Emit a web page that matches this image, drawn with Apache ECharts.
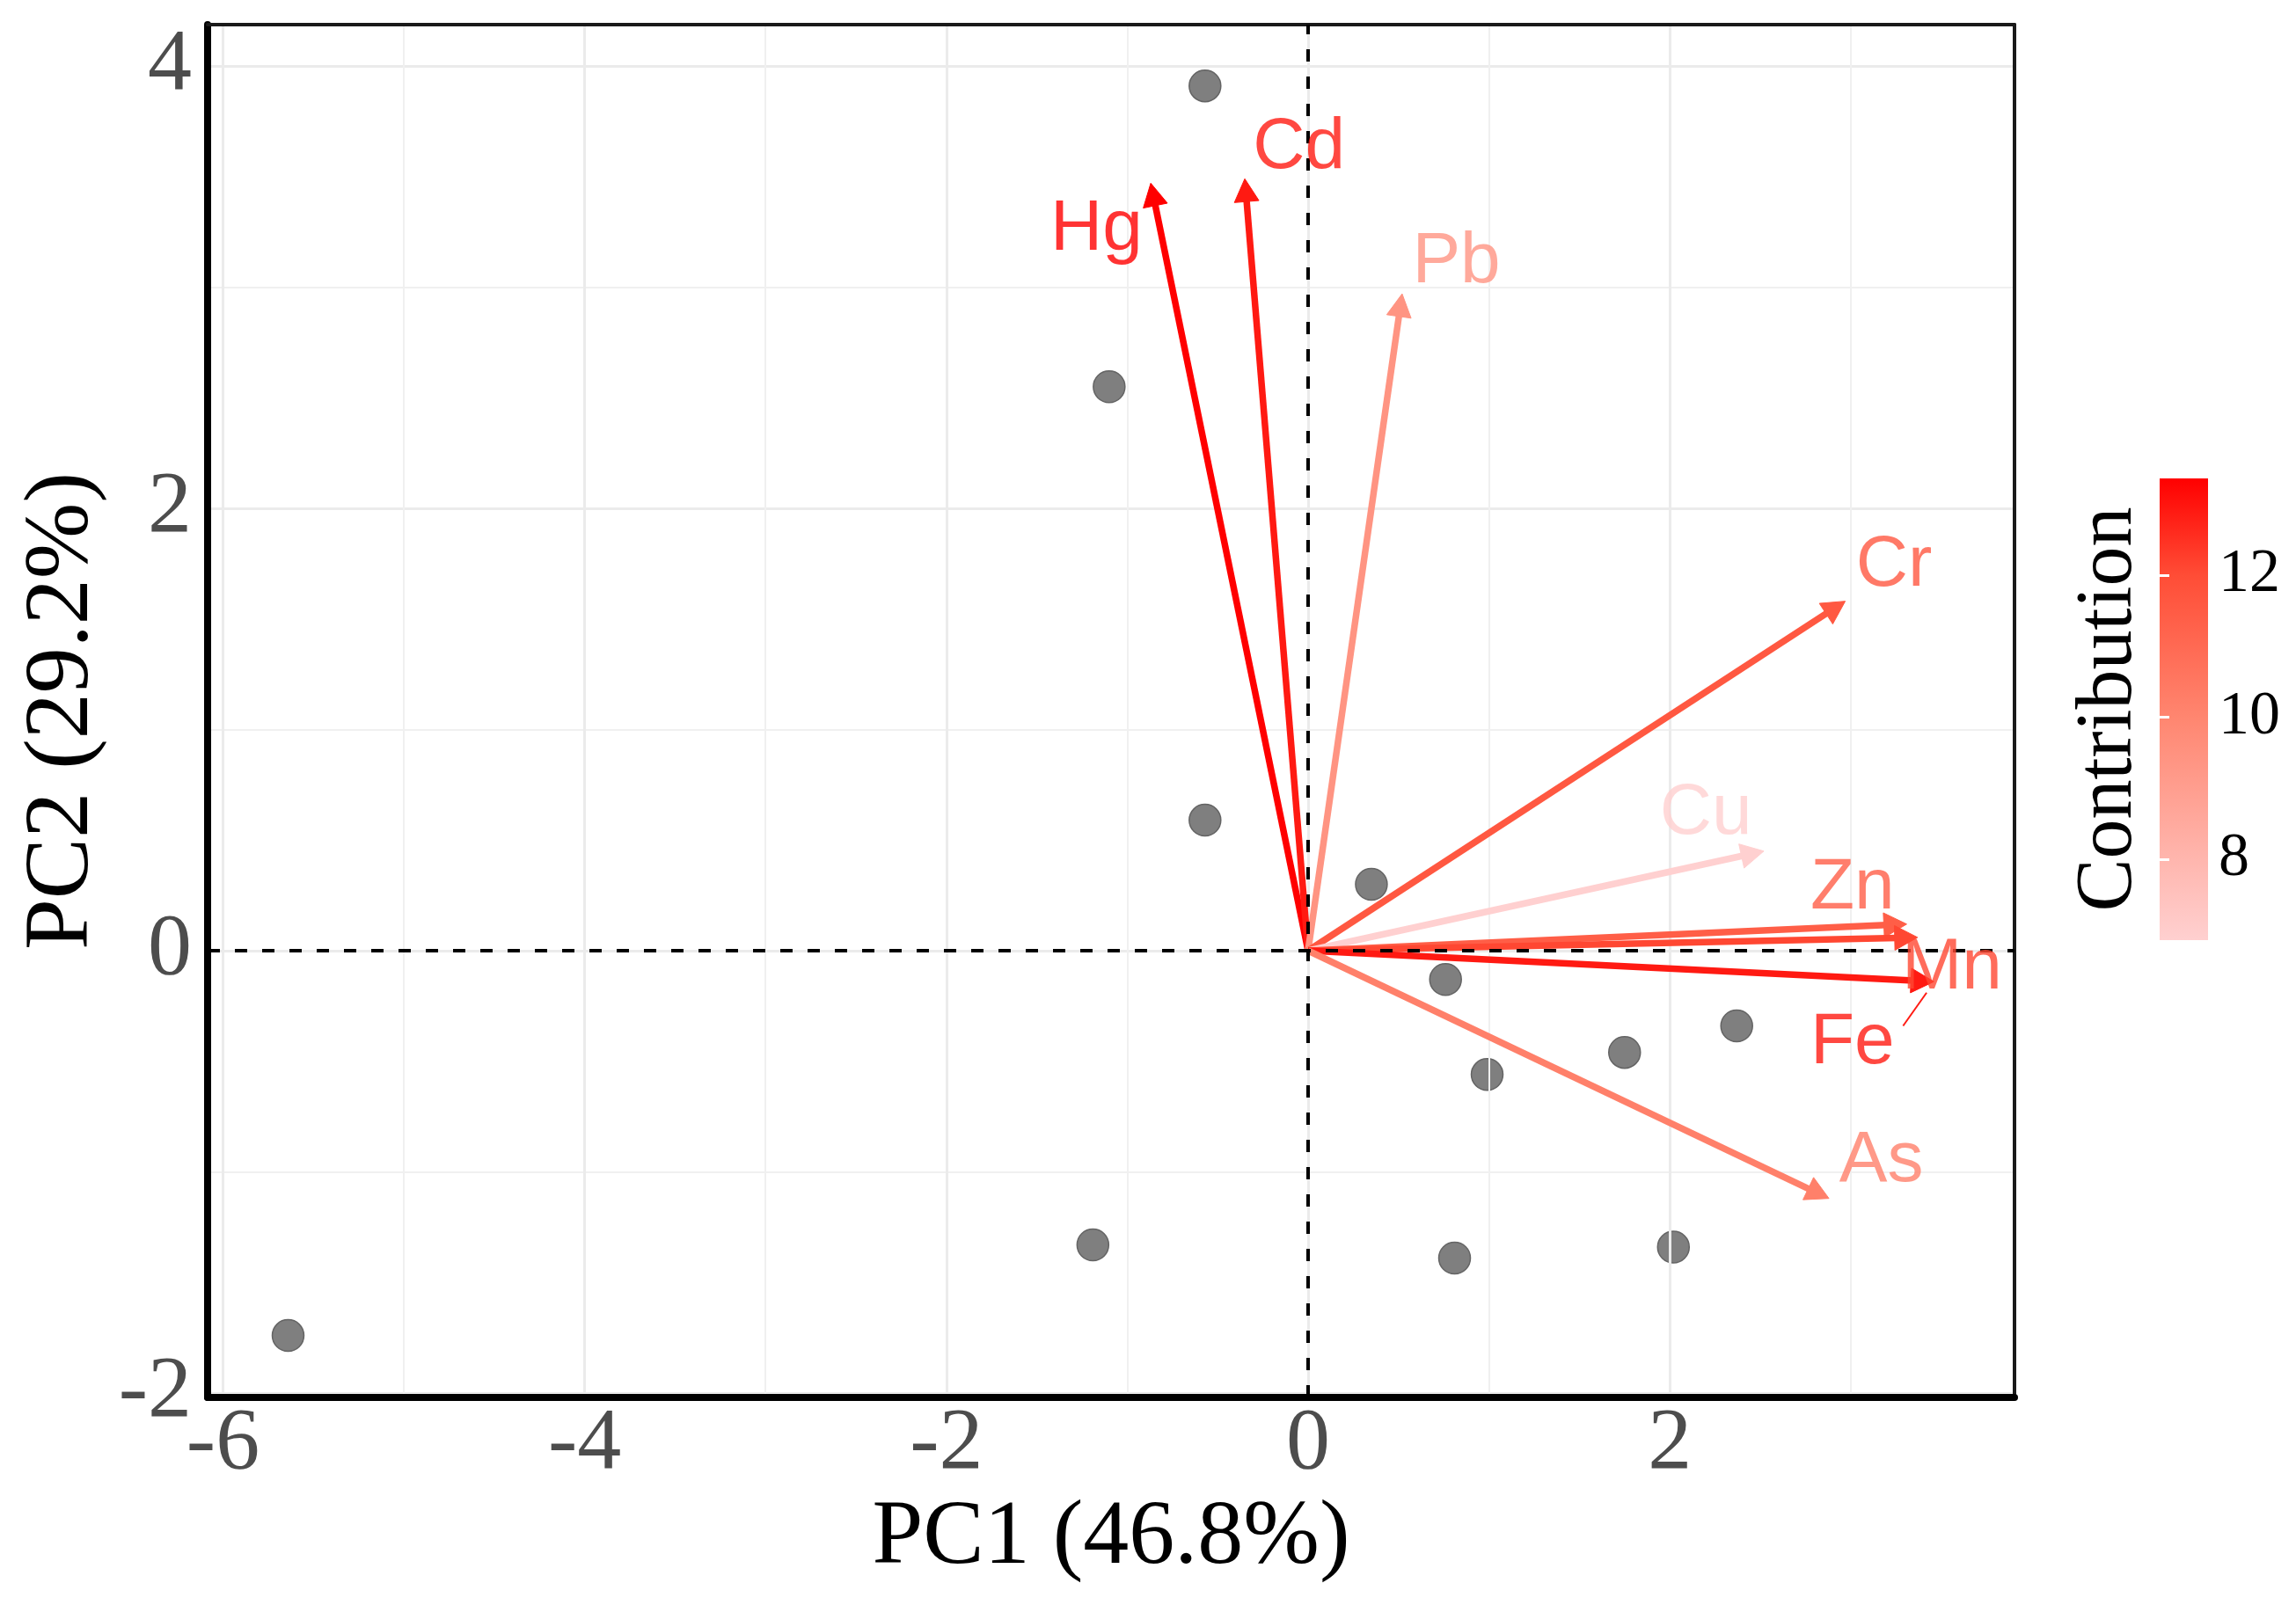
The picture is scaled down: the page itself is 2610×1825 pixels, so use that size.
<!DOCTYPE html>
<html>
<head>
<meta charset="utf-8">
<script src="https://cdn.jsdelivr.net/npm/echarts@6/dist/echarts.min.js"></script>
<style>
html, body { margin: 0; padding: 0; background: #fff; }
#main { width: 2610px; height: 1825px; }
</style>
</head>
<body>
<div id="main"></div>
<script>
// individuals (samples) on PC1 / PC2
var indPC1 = [-0.57, -1.10, -0.57, 0.35, 0.76, 2.37, 1.75, 0.99, -1.19, 0.81, 2.02, -5.64];
var indPC2 = [3.91, 2.55, 0.59, 0.30, -0.13, -0.34, -0.46, -0.56, -1.33, -1.39, -1.34, -1.74];

// variables (arrows)
var varNames   = ['Hg', 'Cd', 'Pb', 'Cr', 'Cu', 'Zn', 'Mn', 'Fe', 'As'];
var varPC1     = [-0.87, -0.35, 0.52, 2.97, 2.52, 3.31, 3.37, 3.46, 2.88];
var varPC2     = [3.47, 3.49, 2.97, 1.58, 0.45, 0.12, 0.06, -0.14, -1.12];
var varContrib = [13.36, 12.9, 9.4, 11.6, 6.86, 11.4, 12.1, 12.9, 10.2];

// where the (repelled) labels ended up
var labelPC1 = [-1.17, -0.05, 0.82, 3.24, 2.20, 3.01, 3.56, 3.01, 3.17];
var labelPC2 = [3.26, 3.63, 3.11, 1.74, 0.62, 0.28, -0.08, -0.42, -0.95];
// Fe label leader segment (label -> arrow tip)
var feSegment = [[3.29, -0.34], [3.42, -0.19]];

var xTicks = [-6, -4, -2, 0, 2];
var yTicks = [-2, 0, 2, 4];
var contribTicks = [8, 10, 12];

var cMin = Math.min.apply(null, varContrib);
var cMax = Math.max.apply(null, varContrib);

// low -> high contribution colours
var gradStops = [[0, '#FFD0D0'], [0.174, '#FFB6AE'], [0.482, '#FF8670'], [0.79, '#FF4D36'], [1, '#FF0000']];

function hex2rgb(h) {
  return [parseInt(h.substr(1, 2), 16), parseInt(h.substr(3, 2), 16), parseInt(h.substr(5, 2), 16)];
}
function contribColor(v) {
  var t = (v - cMin) / (cMax - cMin);
  t = Math.max(0, Math.min(1, t));
  for (var i = 1; i < gradStops.length; i++) {
    if (t <= gradStops[i][0]) {
      var a = gradStops[i - 1], b = gradStops[i];
      var f = (t - a[0]) / (b[0] - a[0]);
      var ca = hex2rgb(a[1]), cb = hex2rgb(b[1]);
      var c = ca.map(function (x, k) { return Math.round(x + (cb[k] - x) * f); });
      return 'rgb(' + c.join(',') + ')';
    }
  }
  return gradStops[gradStops.length - 1][1];
}

var serif = 'Liberation Serif, Times New Roman, serif';
var sans = 'Liberation Sans, Arial, sans-serif';
var xRange = [-6.085, 3.906];
var yRange = [-2.02, 4.187];

var myChart = echarts.init(document.getElementById('main'));

var option = {
  backgroundColor: '#fff',
  animation: false,
  grid: [
    { left: 236, right: 320, top: 28, bottom: 236, show: false, containLabel: false, outerBoundsMode: 'none' },
    // colour bar
    { left: 2455, top: 544, width: 55, height: 525, show: true, borderWidth: 0, containLabel: false, outerBoundsMode: 'none',
      backgroundColor: new echarts.graphic.LinearGradient(0, 0, 0, 1, gradStops.map(function (s) {
        return { offset: 1 - s[0], color: s[1] };
      }).reverse()) }
  ],
  xAxis: [
    {
      gridIndex: 0, type: 'value', min: xRange[0], max: xRange[1], splitNumber: 5,
      axisLine: { onZero: false, lineStyle: { color: '#000', width: 8 } },
      axisTick: { show: false },
      axisLabel: { customValues: xTicks, fontSize: 100, color: '#4D4D4D', fontFamily: serif, margin: 4 },
      splitLine: { show: true, lineStyle: { color: '#EBEBEB', width: 3 } },
      minorTick: { show: false, splitNumber: 2 },
      minorSplitLine: { show: true, lineStyle: { color: '#F0F0F0', width: 2 } },
      name: 'PC1 (46.8%)', nameLocation: 'middle', nameGap: 100,
      nameTextStyle: { fontSize: 104, color: '#000', fontFamily: serif },
      z: 3
    },
    { gridIndex: 1, type: 'value', min: 0, max: 1, show: false },
    {
      // panel border, top
      gridIndex: 0, type: 'value', position: 'top', min: xRange[0], max: xRange[1],
      axisLine: { onZero: false, lineStyle: { color: '#1a1a1a', width: 4 } },
      axisTick: { show: false }, axisLabel: { show: false }, splitLine: { show: false }, z: 3
    }
  ],
  yAxis: [
    {
      gridIndex: 0, type: 'value', min: yRange[0], max: yRange[1], splitNumber: 3,
      axisLine: { onZero: false, lineStyle: { color: '#000', width: 8 } },
      axisTick: { show: false },
      axisLabel: { customValues: yTicks, fontSize: 100, color: '#4D4D4D', fontFamily: serif, margin: 18 },
      splitLine: { show: true, lineStyle: { color: '#EBEBEB', width: 3 } },
      minorTick: { show: false, splitNumber: 2 },
      minorSplitLine: { show: true, lineStyle: { color: '#F0F0F0', width: 2 } },
      name: 'PC2 (29.2%)', nameLocation: 'middle', nameGap: 110, nameRotate: 90,
      nameTextStyle: { fontSize: 104, color: '#000', fontFamily: serif },
      z: 3
    },
    {
      gridIndex: 1, type: 'value', min: cMin, max: cMax, position: 'right',
      axisLine: { show: false },
      axisTick: { show: true, inside: true, length: 11, customValues: contribTicks, lineStyle: { color: '#fff', width: 3 } },
      axisLabel: { customValues: contribTicks, fontSize: 70, color: '#000', fontFamily: serif, margin: 12 },
      splitLine: { show: false }
    },
    {
      gridIndex: 1, type: 'value', min: cMin, max: cMax, position: 'left',
      axisLine: { show: false },
      axisTick: { show: true, inside: true, length: 11, customValues: contribTicks, lineStyle: { color: '#fff', width: 3 } },
      axisLabel: { show: false },
      splitLine: { show: false },
      name: 'Contribution', nameLocation: 'middle', nameRotate: 90, nameGap: 12,
      nameTextStyle: { fontSize: 90, color: '#000', fontFamily: serif }
    },
    {
      // panel border, right
      gridIndex: 0, type: 'value', position: 'right', min: yRange[0], max: yRange[1],
      axisLine: { onZero: false, lineStyle: { color: '#1a1a1a', width: 4 } },
      axisTick: { show: false }, axisLabel: { show: false }, splitLine: { show: false }, z: 3
    }
  ],
  series: [
    {
      // individuals
      type: 'scatter', xAxisIndex: 0, yAxisIndex: 0, z: 2,
      data: indPC1.map(function (x, i) { return [x, indPC2[i]]; }),
      symbolSize: 36,
      itemStyle: { color: '#7F7F7F', borderColor: '#646464', borderWidth: 1.5, opacity: 1 },
      markLine: {
        silent: true, symbol: 'none', label: { show: false },
        lineStyle: { color: '#000', type: [14, 17], width: 4 },
        data: [{ xAxis: 0 }, { yAxis: 0 }]
      }
    },
    {
      // variable arrows
      type: 'custom', xAxisIndex: 0, yAxisIndex: 0, z: 4,
      data: varNames.map(function (n, i) { return [varPC1[i], varPC2[i], varContrib[i]]; }),
      encode: { x: 0, y: 1 },
      renderItem: function (params, api) {
        var o = api.coord([0, 0]);
        var p = api.coord([api.value(0), api.value(1)]);
        var c = contribColor(api.value(2));
        var dx = p[0] - o[0], dy = p[1] - o[1];
        var len = Math.sqrt(dx * dx + dy * dy);
        var ux = dx / len, uy = dy / len;
        var hl = 26, hw = 14;
        var bx = p[0] - ux * hl, by = p[1] - uy * hl;
        return {
          type: 'group',
          children: [
            { type: 'line', shape: { x1: o[0], y1: o[1], x2: bx + ux * 3, y2: by + uy * 3 }, style: { stroke: c, lineWidth: 7.5 } },
            { type: 'polygon', shape: { points: [[p[0], p[1]], [bx - uy * hw, by + ux * hw], [bx + uy * hw, by - ux * hw]] },
              style: { fill: c, stroke: c, lineWidth: 1 } }
          ]
        };
      }
    },
    {
      // leader segment of the Fe label
      type: 'lines', coordinateSystem: 'cartesian2d', xAxisIndex: 0, yAxisIndex: 0, z: 4,
      data: [{ coords: feSegment }],
      lineStyle: { color: contribColor(varContrib[7]), width: 2, opacity: 1 },
      silent: true
    },
    {
      // variable labels
      type: 'scatter', xAxisIndex: 0, yAxisIndex: 0, z: 5, silent: true,
      symbolSize: 0,
      itemStyle: { color: 'rgba(0,0,0,0)' },
      data: varNames.map(function (n, i) {
        return { name: n, value: [labelPC1[i], labelPC2[i]], label: { color: contribColor(varContrib[i]) } };
      }),
      label: { show: true, position: 'inside', formatter: '{b}', fontSize: 82, fontFamily: sans }
    }
  ]
};

myChart.setOption(option);
</script>
</body>
</html>
